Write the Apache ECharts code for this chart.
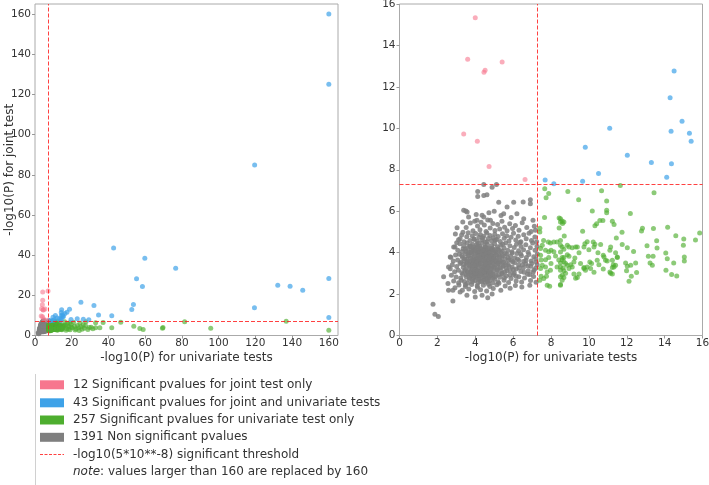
<!DOCTYPE html>
<html><head><meta charset="utf-8">
<script src="https://cdn.jsdelivr.net/npm/echarts@6/dist/echarts.min.js"></script>
<style>html,body{margin:0;padding:0;background:#fff}#c{width:709px;height:485px}</style>
</head><body><div id="c"></div>
<script>
const THRESHOLD = 7.30103;
const leftTicks = [0, 20, 40, 60, 80, 100, 120, 140, 160];
const rightTicks = [0, 2, 4, 6, 8, 10, 12, 14, 16];
const xTitle = '-log10(P) for univariate tests';
const yTitle = '-log10(P) for joint test';
const legendLabels = [
  '12 Significant pvalues for joint test only',
  '43 Significant pvalues for joint and univariate tests',
  '257 Significant pvalues for univariate test only',
  '1391 Non significant pvalues',
  '-log10(5*10**-8) significant threshold'
];
const noteLabel = 'values larger than 160 are replaced by 160';

const pinkPts = [
  [4.00,15.34],[3.60,13.33],[5.42,13.20],[4.52,12.80],[4.46,12.71],[3.39,9.73],[4.11,9.38],[4.73,8.16],[6.63,7.53],
  [4.2,21.7],[7.1,22.2],[4.2,17.6]
];
const bluePts = [
  [14.50,12.77],[14.29,11.47],[14.92,10.34],[14.34,9.86],[15.31,9.76],[15.40,9.38],[11.10,10.00],[9.81,9.09],
  [12.03,8.70],[13.30,8.35],[14.36,8.29],[10.51,7.82],[14.11,7.64],[7.69,7.50],[8.15,7.32],[9.67,7.44],
  [160,160],[160,125],[119.6,84.9],[42.8,43.6],[59.8,38.5],[76.6,33.5],[55.3,28.2],[58.5,24.4],[160,28.4],
  [132.2,25.0],[138.9,24.5],[145.8,22.5],[25.0,16.6],[32.1,14.9],[53.6,15.4],[52.7,12.9],[119.5,13.8],
  [160,9.0],[41.8,9.8],[34.6,10.2],[18.8,13.1],[16.3,10.9],[19.6,8.0],[23.0,8.3],[26.3,8.1],[29.3,7.8],[17.4,11.6]
];
const greenPts = [
  [8.89,6.95],[10.67,6.99],[13.44,6.89],[11.66,7.24],[9.46,6.55],[10.94,6.49],[10.18,6.01],[10.94,6.04],[10.94,5.93],
  [12.19,5.89],[8.50,5.64],[8.59,5.53],[8.68,5.48],[10.58,5.55],[10.74,5.55],[10.32,5.30],[10.41,5.39],[11.24,5.52],
  [11.33,5.36],[9.67,5.03],[11.75,4.98],[12.83,5.18],[12.78,5.04],[13.41,5.17],[14.16,5.22],[15.85,4.95],[14.59,4.82],
  [15.01,4.66],[15.63,4.61],[8.70,4.80],[11.45,4.70],[13.58,4.57],[9.91,4.53],[9.79,4.43],[9.74,4.27],[10.23,4.51],
  [10.32,4.40],[10.27,4.27],[10.62,4.39],[11.15,4.27],[11.11,4.11],[11.76,4.39],[12.03,4.23],[12.36,4.06],[13.07,4.33],
  [13.60,4.22],[14.99,4.36],[8.50,4.36],[8.59,4.27],[8.86,4.36],[8.95,4.27],[9.12,4.23],[9.30,4.27],[9.39,4.27],
  [8.68,4.16],[8.50,4.03],[9.48,4.00],[10.00,4.14],[10.48,4.00],[10.76,3.87],[11.41,4.00],[11.50,3.79],[14.06,3.98],
  [8.86,3.90],[8.95,3.82],[8.59,3.66],[8.68,3.76],[9.26,3.74],[9.21,3.55],[8.50,3.50],[8.50,3.31],[8.77,3.47],
  [8.86,3.39],[9.04,3.42],[9.12,3.31],[8.95,3.23],[9.56,3.47],[9.74,3.28],[9.91,3.31],[9.82,3.15],[10.05,3.55],
  [10.14,3.47],[10.44,3.63],[10.53,3.42],[10.80,3.79],[10.88,3.63],[10.97,3.60],[11.24,3.63],[11.29,3.42],[10.76,3.21],
  [11.24,3.28],[11.33,3.31],[11.15,3.00],[11.24,2.97],[11.11,3.07],[11.41,3.39],[11.50,3.76],[11.94,3.50],[12.03,3.34],
  [12.21,3.39],[12.47,3.50],[11.99,3.12],[12.24,2.86],[12.12,2.62],[12.52,3.04],[13.14,3.82],[13.39,3.82],[13.23,3.50],
  [13.35,3.39],[14.14,3.71],[14.48,3.50],[14.07,3.15],[14.37,2.94],[14.64,2.87],[15.04,3.79],[15.04,3.60],[8.64,3.26],
  [8.68,3.12],[8.77,3.00],[8.50,2.83],[8.68,2.80],[8.59,2.67],[8.50,2.46],[9.21,2.97],[9.39,2.80],[9.48,2.97],
  [9.30,2.76],[9.74,3.23],[10.09,3.23],[10.27,3.05],
  [7.67,7.08],[7.88,6.85],[7.74,6.65],[7.66,5.69],[8.43,5.67],[8.50,5.48],[8.61,5.40],[8.43,5.19],[7.41,5.18],
  [7.41,4.99],[7.61,4.59],[7.54,4.36],[7.86,4.51],[7.97,4.46],[8.15,4.51],[8.32,4.51],[8.50,4.59],[7.45,4.20],
  [7.71,4.12],[7.88,4.04],[8.00,4.12],[8.15,4.04],[8.24,3.84],[8.41,3.64],[8.59,3.77],[8.68,3.56],[7.45,3.87],
  [7.48,3.64],[7.71,3.66],[7.88,3.76],[8.00,3.47],[7.54,3.39],[7.71,3.31],[7.97,3.15],[7.80,3.07],[7.45,3.23],
  [7.48,2.86],[7.41,2.67],[8.32,3.31],[8.50,3.15],[8.59,2.91],[7.76,2.86],[7.62,2.75],[7.80,2.42],[7.93,2.38],[8.50,2.42],
  [16.5,5.2],[17.2,3.4],[17.8,6.1],[18.5,4.3],[19.1,2.9],[19.6,5.6],[20.3,3.8],[21.0,6.6],[21.5,4.6],[22.4,3.2],
  [23.1,5.0],[23.8,3.9],[24.5,6.2],[25.0,4.4],[25.6,3.1],[26.2,5.4],[26.9,3.6],[27.5,4.9],[27.7,6.8],[28.8,3.0],
  [29.5,4.0],[30.6,4.1],[31.5,3.3],[33.0,6.3],[33.0,3.8],[35.3,3.8],[37.1,6.5],[41.8,3.8],[46.7,6.6],[53.8,4.6],
  [57.1,3.5],[58.9,3.0],[69.4,3.6],[69.7,4.0],[81.5,6.8],[95.7,3.6],[136.8,7.1],[160,2.6],[16.9,2.6],[17.6,4.8],
  [18.2,3.1],[19.8,4.1],[21.9,2.7],[24.1,2.5],[16.2,6.8],[18.9,6.4]
];
const grayPts = [
  [3.52,5.21],[3.74,5.43],[3.88,5.05],[3.97,5.52],[4.12,5.28],[4.25,5.11],[4.31,5.47],[4.48,5.33],[4.57,5.02],[4.66,5.58],
  [4.79,5.19],[4.93,5.41],[5.04,5.07],[5.18,5.36],[5.29,5.14],[5.41,5.52],[5.55,5.23],[5.68,5.05],[5.82,5.39],[5.97,5.17],
  [6.12,5.31],[6.31,5.08],[6.48,5.44],[6.72,5.21],[6.95,5.02],[7.12,5.27],[4.05,5.84],[4.72,5.92],[5.36,5.79],[5.90,5.70],
  [3.12,4.62],[3.28,4.85],[3.41,4.53],[3.55,4.77],[3.63,4.96],[3.72,4.58],[3.84,4.81],[3.93,4.67],[4.02,4.92],[4.11,4.55],
  [4.19,4.74],[4.27,4.88],[4.36,4.61],[4.44,4.79],[4.53,4.51],[4.61,4.95],[4.69,4.68],[4.78,4.83],[4.86,4.57],[4.95,4.72],
  [5.03,4.89],[5.12,4.63],[5.21,4.78],[5.32,4.54],[5.44,4.91],[5.53,4.69],[5.66,4.82],[5.78,4.56],[5.89,4.74],[6.02,4.93],
  [6.14,4.61],[6.27,4.79],[6.41,4.52],[6.56,4.86],[6.69,4.67],[6.84,4.94],[6.97,4.58],[7.15,4.75],[7.24,4.53],[3.35,4.98],
  [2.93,4.27],[3.08,4.11],[3.19,4.43],[3.31,4.05],[3.39,4.32],[3.48,4.18],[3.57,4.47],[3.65,4.02],[3.71,4.29],[3.79,4.14],
  [3.86,4.41],[3.94,4.07],[4.01,4.23],[4.08,4.38],[4.16,4.09],[4.23,4.31],[4.29,4.16],[4.37,4.45],[4.43,4.03],[4.51,4.26],
  [4.58,4.12],[4.64,4.39],[4.72,4.21],[4.79,4.06],[4.87,4.34],[4.94,4.17],[5.02,4.43],[5.09,4.01],[5.17,4.28],[5.26,4.13],
  [5.35,4.36],[5.43,4.08],[5.52,4.22],[5.61,4.47],[5.72,4.11],[5.83,4.33],[5.94,4.04],[6.06,4.25],[6.18,4.41],[6.29,4.09],
  [6.42,4.29],[6.55,4.14],[6.67,4.38],[6.79,4.02],[6.91,4.24],[7.03,4.46],[7.16,4.12],[7.26,4.31],[3.02,4.48],[6.35,4.49],
  [2.71,3.78],[2.84,3.59],[2.96,3.88],[3.07,3.64],[3.16,3.92],[3.24,3.53],[3.33,3.76],[3.41,3.61],[3.49,3.95],[3.56,3.69],
  [3.62,3.84],[3.69,3.55],[3.76,3.73],[3.82,3.97],[3.89,3.62],[3.95,3.81],[4.01,3.52],[4.07,3.70],[4.13,3.89],[4.19,3.58],
  [4.25,3.77],[4.31,3.94],[4.37,3.63],[4.43,3.83],[4.49,3.51],[4.55,3.72],[4.61,3.91],[4.67,3.60],[4.73,3.79],[4.80,3.54],
  [4.87,3.86],[4.94,3.67],[5.01,3.98],[5.08,3.57],[5.16,3.75],[5.24,3.92],[5.32,3.61],[5.40,3.80],[5.49,3.53],[5.58,3.71],
  [5.67,3.93],[5.77,3.64],[5.87,3.82],[5.98,3.56],[6.09,3.74],[6.20,3.96],[6.32,3.62],[6.44,3.85],[6.57,3.58],[6.70,3.77],
  [6.83,3.91],[6.96,3.60],[7.09,3.80],[7.22,3.55],[7.28,3.93],[3.71,3.99],[4.52,3.96],[5.19,3.52],
  [2.68,3.22],[2.79,3.41],[2.91,3.08],[3.02,3.33],[3.11,3.15],[3.20,3.47],[3.29,3.03],[3.37,3.28],[3.45,3.12],[3.52,3.39],
  [3.59,3.06],[3.66,3.25],[3.73,3.44],[3.79,3.10],[3.85,3.31],[3.92,3.01],[3.98,3.19],[4.04,3.37],[4.10,3.07],[4.16,3.26],
  [4.22,3.46],[4.28,3.13],[4.34,3.32],[4.40,3.02],[4.46,3.21],[4.52,3.40],[4.58,3.09],[4.64,3.28],[4.70,3.48],[4.77,3.16],
  [4.84,3.35],[4.91,3.04],[4.98,3.23],[5.05,3.42],[5.13,3.11],[5.21,3.30],[5.29,3.49],[5.37,3.14],[5.46,3.33],[5.55,3.05],
  [5.64,3.24],[5.74,3.43],[5.84,3.12],[5.95,3.31],[6.06,3.02],[6.17,3.21],[6.29,3.40],[6.41,3.09],[6.54,3.27],[6.67,3.45],
  [6.80,3.13],[6.93,3.34],[7.06,3.06],[7.19,3.24],[7.27,3.42],[3.55,3.49],[4.08,3.48],[4.63,3.01],
  [2.74,2.91],[2.86,2.63],[2.99,2.82],[3.12,2.55],[3.23,2.77],[3.34,2.96],[3.43,2.61],[3.52,2.84],[3.60,2.52],[3.68,2.71],
  [3.76,2.93],[3.84,2.58],[3.91,2.79],[3.99,2.66],[4.06,2.88],[4.14,2.54],[4.21,2.74],[4.29,2.97],[4.36,2.62],[4.44,2.83],
  [4.51,2.57],[4.59,2.76],[4.67,2.95],[4.75,2.64],[4.83,2.86],[4.92,2.53],[5.01,2.72],[5.10,2.91],[5.20,2.60],[5.30,2.81],
  [5.41,2.98],[5.52,2.67],[5.64,2.87],[5.76,2.56],[5.89,2.75],[6.02,2.94],[6.16,2.63],[6.30,2.84],[6.45,2.58],[6.60,2.78],
  [6.76,2.96],[6.92,2.65],[7.08,2.85],[7.21,2.57],[4.40,2.99],
  [2.93,2.31],[3.14,2.44],[3.32,2.18],[3.48,2.37],[3.66,2.24],[3.81,2.46],[3.97,2.12],[4.12,2.33],[4.28,2.21],[4.43,2.42],
  [4.60,2.15],[4.77,2.36],[4.95,2.27],[5.14,2.45],[5.35,2.19],[5.58,2.39],[5.84,2.28],[6.12,2.41],[6.46,2.34],[6.88,2.43],
  [1.77,1.51],[1.87,1.03],[2.05,0.92],[2.82,1.67],[2.59,2.18],[2.56,2.51],[2.33,2.83],[2.59,3.31],[2.68,3.79],[2.86,4.27],
  [3.20,4.67],[3.34,5.48],[3.50,6.01],[3.57,5.96],[4.13,6.95],[4.13,6.71],[4.36,5.80],[4.45,6.76],[4.62,6.79],[4.45,7.29],
  [5.12,7.29],[4.89,7.16],[5.24,6.43],[6.03,6.43],[6.53,6.44],[6.91,6.55],[6.91,6.36],[5.68,6.20],[5.00,6.00],[5.50,5.88],
  [6.20,5.88],[6.56,5.64],[7.05,5.56],[7.18,5.08],[3.39,6.04],[3.65,5.72],[4.09,5.56],[4.45,5.72],[4.80,5.56],[3.56,1.94],
  [4.00,1.86],[4.36,1.94],[4.66,1.82],[4.89,2.00],[2.82,2.18],[3.20,2.10],[3.04,5.20],[2.95,4.90],
  [3.83,3.45],[3.95,2.95],[4.03,3.62],[4.09,4.02],[4.18,2.87],[4.24,3.55],[4.33,3.88],[4.41,3.24],[4.47,2.69],[4.54,3.58],
  [4.60,4.05],[4.68,3.36],[4.74,2.81],[4.81,3.69],[4.88,4.12],[4.96,3.45],[3.87,4.18],[3.92,3.35],[4.15,3.98],[4.38,3.07],
  [4.56,3.12],[4.71,3.92],[4.83,3.03],[4.99,3.84],[4.26,2.59],[4.50,4.18],[4.05,3.15],[4.65,2.58],[3.75,3.05],[4.92,2.76],
  [3.44,3.71],[3.47,3.18],[3.51,4.06],[3.54,2.93],[3.58,3.57],[3.61,4.24],[3.63,3.02],[3.67,3.88],[3.70,2.79],[3.72,3.34],
  [3.74,4.33],[3.77,3.61],[3.80,2.88],[3.81,4.02],[3.84,3.19],[3.86,3.77],[3.88,2.69],[3.90,4.27],[3.93,3.53],[3.96,3.09],
  [3.98,3.96],[4.00,2.83],[4.02,3.41],[4.04,4.14],[4.06,3.71],[4.08,2.99],[4.11,3.56],[4.12,4.31],[4.14,3.14],[4.17,3.83],
  [4.18,2.71],[4.20,3.39],[4.22,4.08],[4.24,3.00],[4.26,3.67],[4.28,4.22],[4.30,2.91],[4.32,3.47],[4.35,3.99],[4.36,3.17],
  [4.39,3.74],[4.41,2.77],[4.42,4.11],[4.45,3.36],[4.46,3.88],[4.48,3.05],[4.50,3.62],[4.53,4.29],[4.55,2.86],[4.57,3.44],
  [4.59,3.97],[4.61,3.20],[4.63,3.79],[4.66,2.73],[4.68,4.16],[4.70,3.29],[4.72,3.66],[4.75,3.07],[4.77,4.01],[4.79,3.51],
  [4.82,2.89],[4.84,3.82],[4.86,3.25],[4.89,4.21],[4.91,3.59],[4.93,2.97],[4.97,3.72],[5.00,3.30],[5.03,4.09],[5.06,2.84],
  [5.09,3.63],[5.12,3.88],[5.15,3.17],[5.18,4.18],[5.22,3.46],[5.25,2.94],[5.28,3.79],[5.31,3.27],[5.35,4.02],[5.38,3.58],
  [5.42,3.01],[5.46,3.86],[5.50,3.38],[5.54,2.79],[5.58,3.96],[5.62,3.49],[5.67,3.12],[5.72,3.75],[5.78,3.33],[5.83,2.92],
  [5.89,3.63],[5.95,3.98],[6.01,3.19],[6.08,3.51],[6.15,2.86],[6.23,3.69],[6.31,3.27],[6.40,3.94],[6.49,3.41],[6.58,3.05],
  [6.68,3.62],[6.78,3.36],[6.88,2.95],[6.98,3.48],[7.10,3.16],[7.20,3.70],[3.38,3.43],[3.30,3.85],[3.26,2.67],[3.36,4.19],
  [4.15,4.45],[4.62,4.52],[5.05,4.60],[3.95,4.63],[4.40,4.70],[5.45,4.40],[3.48,2.45],[4.10,2.40],[4.70,2.47],[5.25,2.52]
];

const colors = { pink: '#f7768e', blue: '#3ea2e8', green: '#4eae2f', gray: '#7f7f7f', red: '#ff2020' };
const FONT = 'DejaVu Sans';
const textColor = '#333';

const groups = [
  { data: grayPts, color: colors.gray, opacity: 0.85 },
  { data: greenPts, color: colors.green, opacity: 0.65 },
  { data: bluePts, color: colors.blue, opacity: 0.7 },
  { data: pinkPts, color: colors.pink, opacity: 0.6 }
];

const thrLineStyle = { color: colors.red, type: [4, 2], width: 1, opacity: 0.85 };
const series = [];
[0, 1].forEach(function (gi) {
  groups.forEach(function (g) {
    series.push({
      type: 'scatter', xAxisIndex: gi, yAxisIndex: gi, data: g.data,
      symbol: 'circle', symbolSize: 5, clip: true, silent: true,
      itemStyle: { color: g.color, opacity: g.opacity }
    });
  });
  series.push({
    type: 'scatter', xAxisIndex: gi, yAxisIndex: gi, data: [], silent: true, z: 5,
    itemStyle: { color: colors.red },
    markLine: {
      silent: true, symbol: ['none', 'none'], label: { show: false }, animation: false,
      lineStyle: thrLineStyle,
      data: [
        { xAxis: THRESHOLD, lineStyle: thrLineStyle },
        { yAxis: THRESHOLD, lineStyle: thrLineStyle }
      ]
    }
  });
});

function xAx(gi, max, ticks, interval) {
  const a = {
    gridIndex: gi, type: 'value', min: 0, max: max,
    name: xTitle, nameLocation: 'middle', nameGap: 16, nameMoveOverlap: false,
    nameTextStyle: { fontFamily: FONT, fontSize: 12, color: textColor },
    axisLine: { show: false }, splitLine: { show: false },
    axisTick: { show: true, length: 3, lineStyle: { color: '#999' } },
    axisLabel: { fontFamily: FONT, fontSize: 10.5, color: textColor, margin: 2 }
  };
  if (interval) { a.interval = interval; }
  else { a.axisLabel.customValues = ticks; a.axisTick.customValues = ticks; }
  return a;
}
function yAx(gi, max, ticks, interval, withName) {
  const a = {
    gridIndex: gi, type: 'value', min: 0, max: max,
    axisLine: { show: false }, splitLine: { show: false },
    axisTick: { show: true, length: 3, lineStyle: { color: '#999' } },
    axisLabel: { fontFamily: FONT, fontSize: 10.5, color: textColor, margin: 4 }
  };
  if (withName) {
    a.name = yTitle; a.nameLocation = 'middle'; a.nameGap = 19; a.nameMoveOverlap = false;
    a.nameTextStyle = { fontFamily: FONT, fontSize: 12, color: textColor };
  }
  if (interval) { a.interval = interval; }
  else { a.axisLabel.customValues = ticks; a.axisTick.customValues = ticks; }
  return a;
}

const legendGraphics = [];
const rowY = [384.8, 402.8, 420, 437.3];
const rowColors = [colors.pink, colors.blue, colors.green, colors.gray];
legendGraphics.push({ type: 'line', shape: { x1: 35.5, y1: 374, x2: 35.5, y2: 485 }, style: { stroke: '#d0d0d0', lineWidth: 1 }, silent: true });
rowY.forEach(function (y, i) {
  legendGraphics.push({ type: 'rect', shape: { x: 40, y: y - 4.5, width: 24, height: 9 }, style: { fill: rowColors[i] }, silent: true });
  legendGraphics.push({ type: 'text', x: 73, y: y, style: { text: legendLabels[i], fontFamily: FONT, fontSize: 12, fill: textColor, verticalAlign: 'middle' }, silent: true });
});
legendGraphics.push({ type: 'line', shape: { x1: 40, y1: 454.5, x2: 64, y2: 454.5 }, style: { stroke: colors.red, opacity: 0.85, lineWidth: 1, lineDash: [3, 1.5] }, silent: true });
legendGraphics.push({ type: 'text', x: 73, y: 454.5, style: { text: legendLabels[4], fontFamily: FONT, fontSize: 12, fill: textColor, verticalAlign: 'middle' }, silent: true });
legendGraphics.push({ type: 'text', x: 73, y: 472.3, style: {
  text: '{i|note}: ' + noteLabel, fontFamily: FONT, fontSize: 12, fill: textColor, verticalAlign: 'middle',
  rich: { i: { fontStyle: 'italic', fontFamily: FONT, fontSize: 12, fill: textColor } }
}, silent: true });

const chart = echarts.init(document.getElementById('c'), null, { renderer: 'canvas' });
chart.setOption({
  animation: false,
  backgroundColor: '#fff',
  grid: [
    { left: 35, top: 4, width: 303, height: 331.5, outerBoundsMode: 'none', containLabel: false,
      show: true, borderColor: '#aaa', borderWidth: 1, backgroundColor: 'transparent' },
    { left: 399.5, top: 4, width: 303, height: 331.5, outerBoundsMode: 'none', containLabel: false,
      show: true, borderColor: '#aaa', borderWidth: 1, backgroundColor: 'transparent' }
  ],
  xAxis: [xAx(0, 165, leftTicks, null), xAx(1, 16, rightTicks, 2)],
  yAxis: [yAx(0, 165, leftTicks, null, true), yAx(1, 16, rightTicks, 2, false)],
  series: series,
  graphic: legendGraphics
});
</script></body></html>
